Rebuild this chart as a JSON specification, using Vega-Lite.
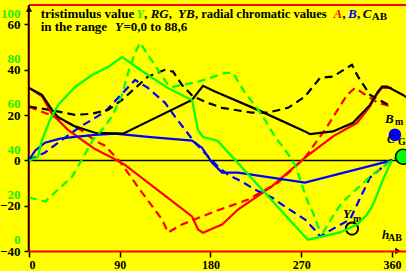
{
  "$schema": "https://vega.github.io/schema/vega-lite/v6.json",
  "width": 377,
  "height": 246,
  "autosize": {"type": "none"},
  "padding": {"left": 29, "top": 5, "right": 0, "bottom": 20},
  "background": "#ffff00",
  "data": {"values": [{}]},
  "config": {
    "view": {"stroke": null},
    "font": "Liberation Serif",
    "axis": {"labelFont": "Liberation Serif", "labelFontWeight": "bold", "labelFontSize": 13, "labelColor": "black", "tickColor": "black", "grid": false, "title": null}
  },
  "resolve": {"scale": {"y": "independent"}, "axis": {"y": "independent"}},
  "layer": [
    {
      "layer": [
        {
          "data": {"values": [
            {"h": 0, "v": 32}, {"h": 12.9, "v": 28.9}, {"h": 22.8, "v": 22.3}, {"h": 28.6, "v": 19.2}, {"h": 45.6, "v": 15}, {"h": 65.5, "v": 12.2}, {"h": 93.3, "v": 11.8}, {"h": 161.7, "v": 26.7}, {"h": 172.6, "v": 32.9}, {"h": 184.5, "v": 30.4}, {"h": 227, "v": 22.3}, {"h": 273.8, "v": 12.8}, {"h": 278.8, "v": 11.6}, {"h": 301.6, "v": 12.8}, {"h": 321.4, "v": 16.6}, {"h": 338.3, "v": 24.5}, {"h": 346.2, "v": 30.4}, {"h": 350.2, "v": 32.6}, {"h": 355.2, "v": 32.6}, {"h": 371, "v": 28.9}, {"h": 374, "v": 28}
          ]},
          "mark": {"type": "line", "color": "black", "strokeWidth": 2, "opacity": 0},
          "encoding": {
            "x": {"field": "h", "type": "quantitative", "scale": {"domain": [0, 374], "nice": false, "zero": false}, "title": null,
                  "axis": {"values": [0, 90, 180, 270, 360], "tickSize": 6, "tickWidth": 1.5, "domainColor": "#ff0000", "domainWidth": 2, "labelPadding": 2, "labelFontSize": 12, "zindex": 1}},
            "y": {"field": "v", "type": "quantitative", "scale": {"domain": [-40, 68.6], "nice": false, "zero": false}, "title": null,
                  "axis": {"orient": "left", "values": [-40, -20, 0, 20, 40, 60], "format": "d", "tickSize": 4, "tickWidth": 1.5, "labelPadding": 4, "offset": 1, "domainColor": "black", "domainWidth": 1.5, "zindex": 1}}
          }
        },
        {"mark": {"type": "rule", "color": "#ff0000", "strokeWidth": 2}, "encoding": {"x": {"datum": 0}}},
        {"mark": {"type": "rule", "color": "#ff0000", "strokeWidth": 2}, "encoding": {"y": {"datum": 68.6}}},
        {"mark": {"type": "rule", "color": "black", "strokeWidth": 1.5}, "encoding": {"y": {"datum": 0}}},
        {"mark": {"type": "point", "shape": "triangle-up", "filled": true, "color": "black", "size": 40, "opacity": 1}, "encoding": {"x": {"datum": 0}, "y": {"datum": 66.8}}},
        {"mark": {"type": "point", "shape": "triangle-right", "filled": true, "color": "black", "size": 40, "opacity": 1}, "encoding": {"x": {"datum": 366}, "y": {"datum": -40}}},
        {
          "data": {"values": [
            {"h": 0, "v": 23.7}, {"h": 20.8, "v": 20.1}, {"h": 38.7, "v": 16.6}, {"h": 52.6, "v": 13.1}, {"h": 65.5, "v": 8.7}, {"h": 75.4, "v": 6.5}, {"h": 90.3, "v": -0.6}, {"h": 110, "v": -12.9}, {"h": 132, "v": -26.1}, {"h": 137.9, "v": -31.8}, {"h": 151.8, "v": -28.3}, {"h": 184.5, "v": -22.5}, {"h": 217.3, "v": -17.3}, {"h": 247, "v": -9.8}, {"h": 273.8, "v": 1.2}, {"h": 295.6, "v": 14.8}, {"h": 315.5, "v": 28.9}, {"h": 323.4, "v": 32}, {"h": 346.2, "v": 25.4}, {"h": 360, "v": 23.7}
          ]},
          "mark": {"type": "line", "color": "#ff0000", "strokeWidth": 2.2, "strokeDash": [8, 5]},
          "encoding": {"x": {"field": "h", "type": "quantitative"}, "y": {"field": "v", "type": "quantitative"}}
        },
        {
          "data": {"values": [
            {"h": 0, "v": 0}, {"h": 15.9, "v": 3.5}, {"h": 32.7, "v": 9.1}, {"h": 50.6, "v": 14.8}, {"h": 67.5, "v": 19.3}, {"h": 75.4, "v": 21.5}, {"h": 105.2, "v": 35.5}, {"h": 118, "v": 32}, {"h": 135, "v": 25.4}, {"h": 144.8, "v": 19.3}, {"h": 154.8, "v": 13.5}, {"h": 164.7, "v": 7.8}, {"h": 187.5, "v": -2.8}, {"h": 197.4, "v": -6.3}, {"h": 211.3, "v": -9.4}, {"h": 224.2, "v": -12.9}, {"h": 241, "v": -16.4}, {"h": 254, "v": -20.4}, {"h": 273.8, "v": -26.1}, {"h": 285.7, "v": -31.8}, {"h": 288.7, "v": -33.6}, {"h": 305.6, "v": -29.2}, {"h": 318.5, "v": -26.1}, {"h": 326.4, "v": -18.6}, {"h": 338.3, "v": -7.6}, {"h": 363, "v": 1.6}
          ]},
          "mark": {"type": "line", "color": "#0000ff", "strokeWidth": 2.2, "strokeDash": [8, 5]},
          "encoding": {"x": {"field": "h", "type": "quantitative"}, "y": {"field": "v", "type": "quantitative"}}
        },
        {
          "data": {"values": [
            {"h": 0, "v": 23.7}, {"h": 19, "v": 22.4}, {"h": 45.6, "v": 20.1}, {"h": 62.5, "v": 20.6}, {"h": 78.4, "v": 22.3}, {"h": 92.3, "v": 26.7}, {"h": 118, "v": 37}, {"h": 135, "v": 40}, {"h": 142.9, "v": 39.2}, {"h": 151.8, "v": 33.3}, {"h": 162.7, "v": 28.2}, {"h": 177.6, "v": 25.4}, {"h": 191.5, "v": 23.2}, {"h": 221, "v": 21.1}, {"h": 237, "v": 21.1}, {"h": 257, "v": 23.2}, {"h": 273.8, "v": 28.2}, {"h": 288.7, "v": 36.4}, {"h": 301.6, "v": 37}, {"h": 320.4, "v": 42.2}, {"h": 326.4, "v": 37}, {"h": 338.3, "v": 28.9}, {"h": 360, "v": 23.7}
          ]},
          "mark": {"type": "line", "color": "black", "strokeWidth": 2.2, "strokeDash": [8, 5]},
          "encoding": {"x": {"field": "h", "type": "quantitative"}, "y": {"field": "v", "type": "quantitative"}}
        },
        {
          "data": {"values": [
            {"h": 0, "v": 32}, {"h": 12.9, "v": 28.3}, {"h": 22.8, "v": 20.5}, {"h": 38.7, "v": 13.5}, {"h": 52.6, "v": 9}, {"h": 65.5, "v": 5}, {"h": 85.3, "v": 0.5}, {"h": 95.2, "v": -2}, {"h": 161.7, "v": -24.7}, {"h": 167.7, "v": -30.5}, {"h": 172.6, "v": -31.9}, {"h": 184.5, "v": -29.6}, {"h": 191.5, "v": -28.3}, {"h": 207.3, "v": -21.7}, {"h": 241, "v": -11.5}, {"h": 273.8, "v": 1.2}, {"h": 301.6, "v": 10.6}, {"h": 325.4, "v": 16.6}, {"h": 338.3, "v": 23.8}, {"h": 343.3, "v": 28.1}, {"h": 350.2, "v": 32}, {"h": 360, "v": 32}
          ]},
          "mark": {"type": "line", "color": "#ff0000", "strokeWidth": 2.2},
          "encoding": {"x": {"field": "h", "type": "quantitative"}, "y": {"field": "v", "type": "quantitative"}}
        },
        {
          "data": {"values": [
            {"h": 0, "v": 0}, {"h": 6, "v": 4.3}, {"h": 15.9, "v": 7.8}, {"h": 30.8, "v": 9.6}, {"h": 45.6, "v": 10.4}, {"h": 65.5, "v": 11.3}, {"h": 85.3, "v": 11.8}, {"h": 118, "v": 10.4}, {"h": 161.7, "v": 8.7}, {"h": 171.6, "v": 5.6}, {"h": 181.5, "v": -1}, {"h": 191.5, "v": -5.4}, {"h": 207.3, "v": -5.4}, {"h": 273.8, "v": -9.8}, {"h": 360, "v": 0}
          ]},
          "mark": {"type": "line", "color": "#0000ff", "strokeWidth": 2.2},
          "encoding": {"x": {"field": "h", "type": "quantitative"}, "y": {"field": "v", "type": "quantitative"}}
        },
        {
          "data": {"values": [
            {"h": 0, "v": 32}, {"h": 12.9, "v": 28.9}, {"h": 22.8, "v": 22.3}, {"h": 28.6, "v": 19.2}, {"h": 45.6, "v": 15}, {"h": 65.5, "v": 12.2}, {"h": 93.3, "v": 11.8}, {"h": 161.7, "v": 26.7}, {"h": 172.6, "v": 32.9}, {"h": 184.5, "v": 30.4}, {"h": 227, "v": 22.3}, {"h": 273.8, "v": 12.8}, {"h": 278.8, "v": 11.6}, {"h": 301.6, "v": 12.8}, {"h": 321.4, "v": 16.6}, {"h": 338.3, "v": 24.5}, {"h": 346.2, "v": 30.4}, {"h": 350.2, "v": 32.6}, {"h": 355.2, "v": 32.6}, {"h": 371, "v": 28.9}, {"h": 374, "v": 28}
          ]},
          "mark": {"type": "line", "color": "black", "strokeWidth": 2.2},
          "encoding": {"x": {"field": "h", "type": "quantitative"}, "y": {"field": "v", "type": "quantitative"}}
        },
        {
          "data": {"values": [{"h": 320.4, "v": -30.1}]},
          "mark": {"type": "point", "shape": "circle", "filled": false, "color": "black", "strokeWidth": 2, "size": 150, "opacity": 1},
          "encoding": {"x": {"field": "h", "type": "quantitative"}, "y": {"field": "v", "type": "quantitative"}}
        },
        {
          "data": {"values": [{"h": 363, "v": 11.3}]},
          "mark": {"type": "circle", "color": "#0000ff", "size": 160, "opacity": 1},
          "encoding": {"x": {"field": "h", "type": "quantitative"}, "y": {"field": "v", "type": "quantitative"}}
        },
        {"mark": {"type": "text", "text": "tristimulus value", "align": "left", "baseline": "alphabetic", "fontWeight": "bold", "fontSize": 13, "color": "black"}, "encoding": {"x": {"datum": 11.6}, "y": {"datum": 62.8}}},
        {"mark": {"type": "text", "text": "Y", "align": "left", "baseline": "alphabetic", "fontWeight": "bold", "fontStyle": "italic", "fontSize": 13, "color": "#22ee00"}, "encoding": {"x": {"datum": 106.4}, "y": {"datum": 62.8}}},
        {"mark": {"type": "text", "text": ",", "align": "left", "baseline": "alphabetic", "fontWeight": "bold", "fontSize": 13, "color": "black"}, "encoding": {"x": {"datum": 114}, "y": {"datum": 62.8}}},
        {"mark": {"type": "text", "text": "RG", "align": "left", "baseline": "alphabetic", "fontWeight": "bold", "fontStyle": "italic", "fontSize": 13, "color": "black"}, "encoding": {"x": {"datum": 120.7}, "y": {"datum": 62.8}}},
        {"mark": {"type": "text", "text": ",", "align": "left", "baseline": "alphabetic", "fontWeight": "bold", "fontSize": 13, "color": "black"}, "encoding": {"x": {"datum": 138.6}, "y": {"datum": 62.8}}},
        {"mark": {"type": "text", "text": "YB", "align": "left", "baseline": "alphabetic", "fontWeight": "bold", "fontStyle": "italic", "fontSize": 13, "color": "black"}, "encoding": {"x": {"datum": 147.8}, "y": {"datum": 62.8}}},
        {"mark": {"type": "text", "text": ", radial chromatic values", "align": "left", "baseline": "alphabetic", "fontWeight": "bold", "fontSize": 12.5, "color": "black"}, "encoding": {"x": {"datum": 164.7}, "y": {"datum": 62.8}}},
        {"mark": {"type": "text", "text": "A", "align": "left", "baseline": "alphabetic", "fontWeight": "bold", "fontStyle": "italic", "fontSize": 13, "color": "#ff0000"}, "encoding": {"x": {"datum": 302}, "y": {"datum": 62.8}}},
        {"mark": {"type": "text", "text": ",", "align": "left", "baseline": "alphabetic", "fontWeight": "bold", "fontSize": 13, "color": "black"}, "encoding": {"x": {"datum": 310.8}, "y": {"datum": 62.8}}},
        {"mark": {"type": "text", "text": "B", "align": "left", "baseline": "alphabetic", "fontWeight": "bold", "fontStyle": "italic", "fontSize": 13, "color": "#0000ff"}, "encoding": {"x": {"datum": 316.5}, "y": {"datum": 62.8}}},
        {"mark": {"type": "text", "text": ",", "align": "left", "baseline": "alphabetic", "fontWeight": "bold", "fontSize": 13, "color": "black"}, "encoding": {"x": {"datum": 325.4}, "y": {"datum": 62.8}}},
        {"mark": {"type": "text", "text": "C", "align": "left", "baseline": "alphabetic", "fontWeight": "bold", "fontStyle": "italic", "fontSize": 13, "color": "black"}, "encoding": {"x": {"datum": 331}, "y": {"datum": 62.8}}},
        {"mark": {"type": "text", "text": "AB", "align": "left", "baseline": "alphabetic", "fontWeight": "bold", "fontSize": 11, "color": "black"}, "encoding": {"x": {"datum": 340}, "y": {"datum": 62.0}}},
        {"mark": {"type": "text", "text": "in the range", "align": "left", "baseline": "alphabetic", "fontWeight": "bold", "fontSize": 13, "color": "black"}, "encoding": {"x": {"datum": 11.6}, "y": {"datum": 57.3}}},
        {"mark": {"type": "text", "text": "Y", "align": "left", "baseline": "alphabetic", "fontWeight": "bold", "fontStyle": "italic", "fontSize": 13, "color": "black"}, "encoding": {"x": {"datum": 85.3}, "y": {"datum": 57.3}}},
        {"mark": {"type": "text", "text": "=0,0 to 88,6", "align": "left", "baseline": "alphabetic", "fontWeight": "bold", "fontSize": 13, "color": "black"}, "encoding": {"x": {"datum": 93.7}, "y": {"datum": 57.3}}},
        {"mark": {"type": "text", "text": "B", "align": "left", "baseline": "alphabetic", "fontWeight": "bold", "fontStyle": "italic", "fontSize": 13, "color": "black"}, "encoding": {"x": {"datum": 353.2}, "y": {"datum": 16.5}}},
        {"mark": {"type": "text", "text": "m", "align": "left", "baseline": "alphabetic", "fontWeight": "bold", "fontSize": 10, "color": "black"}, "encoding": {"x": {"datum": 363.1}, "y": {"datum": 15.6}}},
        {"mark": {"type": "text", "text": "C", "align": "left", "baseline": "alphabetic", "fontWeight": "bold", "fontStyle": "italic", "fontSize": 12, "color": "black"}, "encoding": {"x": {"datum": 355.2}, "y": {"datum": 7.7}}},
        {"mark": {"type": "text", "text": "G", "align": "left", "baseline": "alphabetic", "fontWeight": "bold", "fontSize": 10, "color": "black"}, "encoding": {"x": {"datum": 366.1}, "y": {"datum": 6.8}}},
        {"mark": {"type": "text", "text": "Y", "align": "left", "baseline": "alphabetic", "fontWeight": "bold", "fontStyle": "italic", "fontSize": 13, "color": "black"}, "encoding": {"x": {"datum": 311.5}, "y": {"datum": -25.4}}},
        {"mark": {"type": "text", "text": "m", "align": "left", "baseline": "alphabetic", "fontWeight": "bold", "fontSize": 10, "color": "black"}, "encoding": {"x": {"datum": 321.4}, "y": {"datum": -27.2}}},
        {"mark": {"type": "text", "text": "h", "align": "left", "baseline": "alphabetic", "fontWeight": "bold", "fontStyle": "italic", "fontSize": 13, "color": "black"}, "encoding": {"x": {"datum": 350.2}, "y": {"datum": -34.7}}},
        {"mark": {"type": "text", "text": "AB", "align": "left", "baseline": "alphabetic", "fontWeight": "bold", "fontSize": 10, "color": "black"}, "encoding": {"x": {"datum": 356.2}, "y": {"datum": -35.6}}}
      ]
    },
    {
      "layer": [
        {
          "data": {"values": [
            {"h": 0, "G": 18.6}, {"h": 15.9, "G": 16.8}, {"h": 28.8, "G": 22.1}, {"h": 42.7, "G": 27.8}, {"h": 53.6, "G": 36.2}, {"h": 63.5, "G": 44.1}, {"h": 72.4, "G": 48.5}, {"h": 82.3, "G": 54.3}, {"h": 92.3, "G": 63.9}, {"h": 98.2, "G": 73.6}, {"h": 105.2, "G": 82.4}, {"h": 110.1, "G": 86.9}, {"h": 118, "G": 81.6}, {"h": 128, "G": 75}, {"h": 137.9, "G": 68.3}, {"h": 142.9, "G": 67.5}, {"h": 167.7, "G": 69.7}, {"h": 194.4, "G": 73.6}, {"h": 202.4, "G": 73.6}, {"h": 214.3, "G": 64.8}, {"h": 231.2, "G": 55.1}, {"h": 244, "G": 45.4}, {"h": 254, "G": 39.7}, {"h": 263.9, "G": 33.1}, {"h": 276.8, "G": 16.4}, {"h": 281.7, "G": 12}, {"h": 286.7, "G": 5.8}, {"h": 291.7, "G": 3.2}, {"h": 296.6, "G": 6.7}, {"h": 303.6, "G": 12}, {"h": 310.5, "G": 16.4}, {"h": 338.3, "G": 27.8}, {"h": 363, "G": 36.2}
          ]},
          "mark": {"type": "line", "color": "#00ff00", "strokeWidth": 2.2, "strokeDash": [8, 5]},
          "encoding": {
            "x": {"field": "h", "type": "quantitative"},
            "y": {"field": "G", "type": "quantitative", "scale": {"domain": [-5, 103.6], "nice": false, "zero": false}, "title": null,
                  "axis": {"orient": "left", "values": [0, 20, 40, 60, 80, 100], "ticks": false, "tickSize": 0, "domain": false, "labelPadding": 8, "offset": 1, "labelColor": "#22ee00"}}
          }
        },
        {
          "data": {"values": [
            {"h": 0, "G": 34.8}, {"h": 8.9, "G": 36.5}, {"h": 12.9, "G": 44}, {"h": 20.8, "G": 52.8}, {"h": 28.8, "G": 59.4}, {"h": 45.6, "G": 67.4}, {"h": 62.5, "G": 72.7}, {"h": 78.4, "G": 76.2}, {"h": 92.3, "G": 80.6}, {"h": 118, "G": 72.7}, {"h": 137.9, "G": 66.9}, {"h": 161.7, "G": 61.6}, {"h": 167.7, "G": 48.4}, {"h": 172.6, "G": 45.3}, {"h": 184.5, "G": 44}, {"h": 187.5, "G": 43.5}, {"h": 273.8, "G": 1.3}, {"h": 276.8, "G": 0}, {"h": 308.5, "G": 3.2}, {"h": 325.4, "G": 6.7}, {"h": 335.3, "G": 11.1}, {"h": 340.3, "G": 14.6}, {"h": 343.3, "G": 17.7}, {"h": 351.2, "G": 26.5}, {"h": 360, "G": 35}
          ]},
          "mark": {"type": "line", "color": "#00ff00", "strokeWidth": 2.2},
          "encoding": {"x": {"field": "h", "type": "quantitative"}, "y": {"field": "G", "type": "quantitative"}}
        },
        {
          "data": {"values": [{"h": 371, "G": 36.6}]},
          "mark": {"type": "point", "shape": "circle", "filled": true, "fill": "#00ff00", "stroke": "black", "strokeWidth": 1.5, "size": 220, "opacity": 1},
          "encoding": {"x": {"field": "h", "type": "quantitative"}, "y": {"field": "G", "type": "quantitative"}}
        }
      ]
    }
  ]
}
